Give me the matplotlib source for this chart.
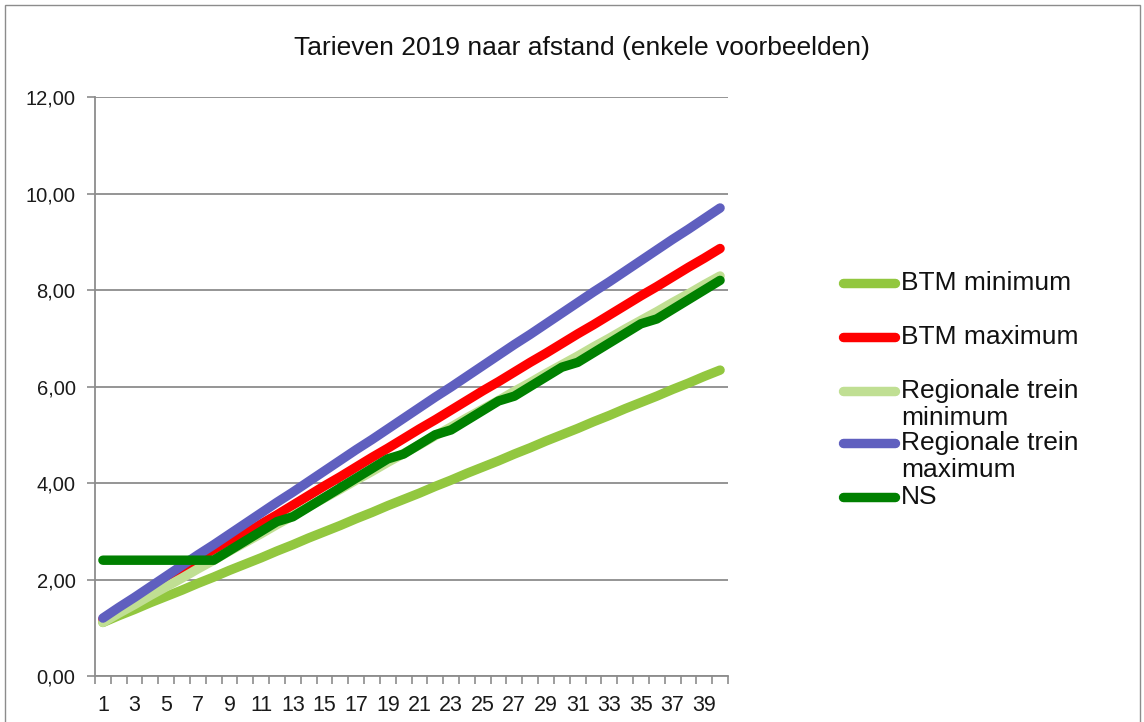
import matplotlib
matplotlib.use("Agg")
import matplotlib.pyplot as plt
from matplotlib.lines import Line2D
from matplotlib.patches import Rectangle
from matplotlib.ticker import FuncFormatter, FixedLocator

plt.rcParams['font.family'] = ['Liberation Sans', 'DejaVu Sans']

title = "Tarieven 2019 naar afstand (enkele voorbeelden)"
km = list(range(1, 41))
series_names = ["BTM minimum", "BTM maximum", "Regionale trein\nminimum",
                "Regionale trein\nmaximum", "NS"]
colors = ["#92C73F", "#FF0000", "#C0DF93", "#5F5FBF", "#008000"]

btm_min = [1.11, 1.25, 1.38, 1.52, 1.65, 1.78, 1.92, 2.05, 2.19, 2.32,
           2.45, 2.59, 2.72, 2.86, 2.99, 3.12, 3.26, 3.39, 3.53, 3.66,
           3.79, 3.93, 4.06, 4.20, 4.33, 4.46, 4.60, 4.73, 4.87, 5.00,
           5.13, 5.27, 5.40, 5.54, 5.67, 5.80, 5.94, 6.07, 6.21, 6.34]
btm_max = [1.18, 1.37, 1.57, 1.77, 1.97, 2.16, 2.36, 2.56, 2.75, 2.95,
           3.15, 3.34, 3.54, 3.74, 3.94, 4.13, 4.33, 4.53, 4.72, 4.92,
           5.12, 5.31, 5.51, 5.71, 5.91, 6.10, 6.30, 6.50, 6.69, 6.89,
           7.09, 7.28, 7.48, 7.68, 7.88, 8.07, 8.27, 8.47, 8.66, 8.86]
reg_min = [1.11, 1.30, 1.48, 1.67, 1.85, 2.03, 2.22, 2.40, 2.59, 2.77,
           2.95, 3.14, 3.32, 3.51, 3.69, 3.87, 4.06, 4.24, 4.43, 4.61,
           4.79, 4.98, 5.16, 5.35, 5.53, 5.71, 5.90, 6.08, 6.27, 6.45,
           6.63, 6.82, 7.00, 7.19, 7.37, 7.55, 7.74, 7.92, 8.11, 8.29]
reg_max = [1.20, 1.42, 1.63, 1.85, 2.07, 2.29, 2.51, 2.72, 2.94, 3.16,
           3.38, 3.60, 3.81, 4.03, 4.25, 4.47, 4.69, 4.90, 5.12, 5.34,
           5.56, 5.78, 5.99, 6.21, 6.43, 6.65, 6.87, 7.08, 7.30, 7.52,
           7.74, 7.96, 8.17, 8.39, 8.61, 8.83, 9.05, 9.26, 9.48, 9.70]
ns = [2.40, 2.40, 2.40, 2.40, 2.40, 2.40, 2.40, 2.40, 2.60, 2.80,
      3.00, 3.20, 3.30, 3.50, 3.70, 3.90, 4.10, 4.30, 4.50, 4.60,
      4.80, 5.00, 5.10, 5.30, 5.50, 5.70, 5.80, 6.00, 6.20, 6.40,
      6.50, 6.70, 6.90, 7.10, 7.30, 7.40, 7.60, 7.80, 8.00, 8.20]
y_ticks = [0, 2, 4, 6, 8, 10, 12]
x_labels = [str(k) for k in range(1, 41, 2)]

W, H = 1144, 722
fig = plt.figure(figsize=(W / 100, H / 100), dpi=100)

# outer chart border
fig.patches.append(Rectangle((5 / W, -0.1), (1140 - 5) / W, 1.1 - 5 / H,
                             transform=fig.transFigure, fill=False,
                             edgecolor="#8C8C8C", linewidth=1.0))

ax = fig.add_axes([95 / W, 1 - 676 / H, (728 - 95) / W, (676 - 97) / H])
grid_c = "#8C8C8C"
ax.set_xlim(0.5, 40.5)
ax.set_ylim(0, 12)
ax.yaxis.set_major_locator(FixedLocator(y_ticks))
ax.yaxis.set_major_formatter(FuncFormatter(lambda v, p: f"{v:.2f}".replace(".", ",")))
ax.grid(axis="y", color=grid_c, linewidth=1.3)
ax.set_axisbelow(True)
for s in ["top", "right"]:
    ax.spines[s].set_visible(False)
for s in ["left", "bottom"]:
    ax.spines[s].set_color(grid_c)
    ax.spines[s].set_linewidth(1.3)

ax.set_xticks([k + 0.5 for k in range(0, 41)])
ax.set_xticklabels([])
ax.set_xticks(list(range(1, 41, 2)), minor=True)
ax.set_xticklabels(x_labels, minor=True)
ax.tick_params(axis="x", which="major", length=6, color=grid_c, width=1.2)
ax.tick_params(axis="x", which="minor", length=0, labelsize=15.5, pad=14,
               labelcolor="#1A1A1A")
ax.tick_params(axis="y", length=6, color=grid_c, width=1.2, labelsize=14.5,
               labelcolor="#1A1A1A", pad=8)

data = [btm_min, btm_max, reg_min, reg_max, ns]
for vals, c in zip(data, colors):
    ax.plot(km, vals, color=c, linewidth=6.8, solid_capstyle="round",
            solid_joinstyle="round", clip_on=False)

fig.text(582 / W, 1 - 48 / H, title, ha="center", va="center",
         fontsize=19, color="#111111")

# legend
leg_y = [283, 337, 391, 443, 497]
for name, c, y in zip(series_names, colors, leg_y):
    fig.add_artist(Line2D([843 / W, 895 / W], [1 - y / H, 1 - y / H],
                          color=c, linewidth=6.8, solid_capstyle="round",
                          transform=fig.transFigure))
    fig.text(901 / W, 1 - (y - 12) / H, name, ha="left", va="top",
             fontsize=19, color="#111111", linespacing=1.15)

fig.savefig("out.png", dpi=100)
